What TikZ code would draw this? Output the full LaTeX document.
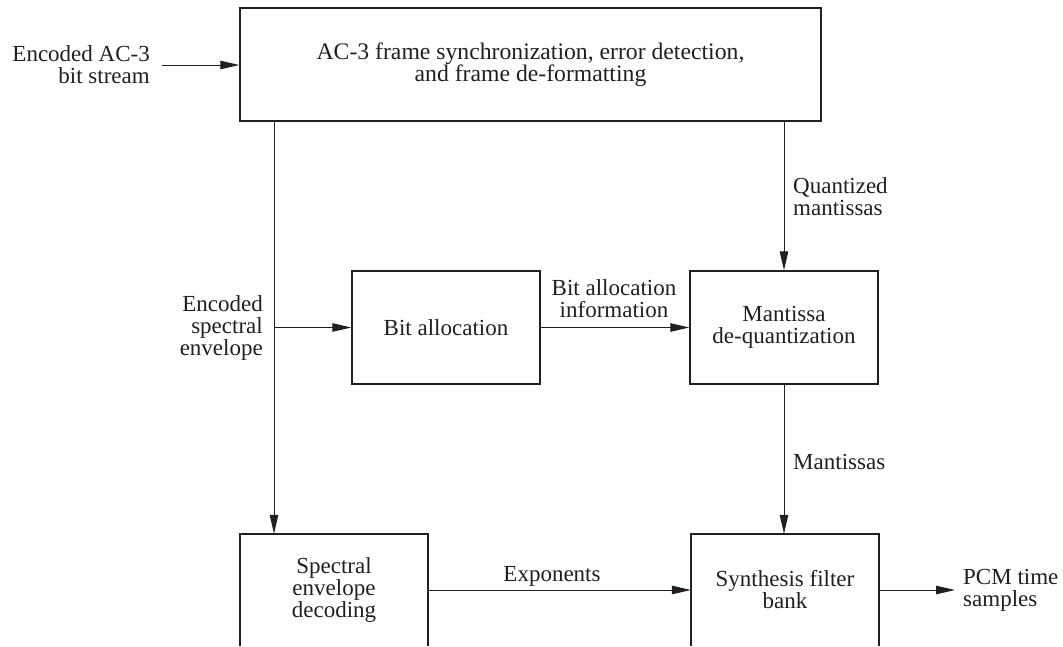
\documentclass[tikz,border=0pt]{standalone}
\usepackage{fontspec}
\setmainfont{Liberation Serif}
\usetikzlibrary{arrows.meta}
\definecolor{ink}{RGB}{35,31,32}
\begin{document}
\begin{tikzpicture}[x=1pt,y=-1pt,
  every node/.style={text=ink,font=\fontsize{23}{22}\selectfont,inner sep=0pt},
  blk/.style={draw=ink,line width=1.5pt,align=center},
  openblk/.style={align=center},
  lbl/.style={align=center},
  conn/.style={draw=ink,line width=1pt,-{Triangle[length=19pt,width=8.5pt]}},
  plain/.style={draw=ink,line width=1pt}]
\clip (0,0) rectangle (1063,646);
\fill[white] (0,0) rectangle (1063,646);

% blocks
\node[blk,minimum width=581pt,minimum height=113pt,font=\fontsize{23.7}{22}\selectfont] (top) at (530.5,64.5)
  {AC-3 frame synchronization, error detection,\\and frame de-formatting};
\node[blk,minimum width=188pt,minimum height=113pt] (bit) at (446,327.5) {Bit allocation};
\node[blk,minimum width=188pt,minimum height=113pt] (mant) at (784,327.5) {Mantissa\\de-quantization};
\node[openblk,minimum width=188pt,minimum height=112pt] (spec) at (334,590) {Spectral\\envelope\\decoding};
\node[openblk,minimum width=188pt,minimum height=112pt] (synth) at (785,590) {Synthesis filter\\bank};
\draw[ink,line width=1.5pt] (spec.south west) -- (spec.north west) -- (spec.north east) -- (spec.south east);
\draw[ink,line width=1.5pt] (synth.south west) -- (synth.north west) -- (synth.north east) -- (synth.south east);

% coordinates
\coordinate (inpt) at (162,65);
\coordinate (lx) at (274,0);
\coordinate (outp) at (955,590);

% connectors
\draw[conn] (inpt) -- (inpt -| top.west);
\draw[conn] (lx |- top.south) -- (lx |- spec.north);
\draw[conn] (lx |- bit.west) -- (bit.west);
\draw[conn] (top.south -| mant.north) -- (mant.north);
\draw[conn] (bit.east) -- (mant.west);
\draw[conn] (mant.south) -- (mant.south |- synth.north);
\draw[conn] (spec.east) -- (synth.west);
\draw[conn] (synth.east) -- (outp);

% labels
\node[lbl,align=right,anchor=east] (lin) at (150,65) {Encoded AC-3\\bit stream};
\node[lbl,align=right,anchor=east] (lenv) at (263,328) {Encoded\\spectral\\envelope};
\node[lbl] (lbit) at (614,299) {Bit allocation\\information};
\node[lbl,align=left,anchor=west] (lq) at (793,197) {Quantized\\mantissas};
\node[lbl,anchor=west] (lm) at (793,462) {Mantissas};
\node[lbl] (lexp) at (552,576) {Exponents};
\node[lbl,align=left,anchor=west] (lpcm) at (963,590) {PCM time\\samples};
\end{tikzpicture}
\end{document}
